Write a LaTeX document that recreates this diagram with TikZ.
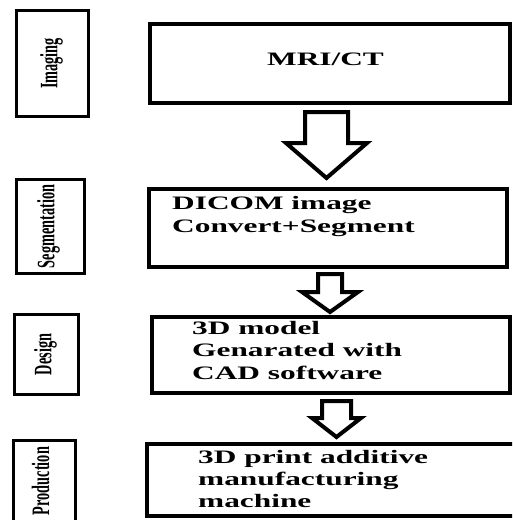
\documentclass[tikz,border=0pt]{standalone}
\usepackage{fontspec}
\setmainfont{Liberation Serif}
\begin{document}
\begin{tikzpicture}[x=1pt,y=-1pt]
\tikzset{
  sidebox/.style={draw, line width=3.5pt, inner sep=0pt},
  mainbox/.style={draw, line width=4.5pt, inner sep=0pt},
  txt/.style={anchor=base west, inner sep=0pt, font=\fontsize{19}{22.5}\selectfont\bfseries},
  lbl/.style={rotate=90, inner sep=0pt, font=\fontsize{14.3}{16}\selectfont\bfseries},
  blk/.style={draw, line width=4pt, fill=white, line join=miter}
}
\clip (0,0) rectangle (512,520);
\fill[white] (0,0) rectangle (512,520);

% block arrows
\draw[blk] (305,112) -- (348,112) -- (348,143) -- (367,143) -- (326.5,178) -- (286,143) -- (305,143) -- cycle;
\draw[blk] (318,274) -- (342,274) -- (342,292) -- (358,292) -- (330,312) -- (302,292) -- (318,292) -- cycle;
\draw[blk] (322,401) -- (351,401) -- (351,418) -- (361,418) -- (336.5,437) -- (312,418) -- (322,418) -- cycle;

% side boxes
\node[sidebox, minimum width=72pt, minimum height=106pt] (imgbox) at (52.5,63.5) {};
\node[sidebox, minimum width=68pt, minimum height=94pt] (segbox) at (50.5,226.5) {};
\node[sidebox, minimum width=64pt, minimum height=80pt] (desbox) at (46.5,354.5) {};
\node[sidebox, minimum width=62pt, minimum height=89pt] (probox) at (44.5,485) {};

\node[lbl] (imglbl) at ([xshift=-1pt]imgbox.center) {\scalebox{1}[1.75]{Imaging}};
\node[lbl] (seglbl) at ([xshift=-2pt]segbox.center) {\scalebox{1}[1.75]{Segmentation}};
\node[lbl] (deslbl) at ([xshift=-1pt]desbox.center) {\scalebox{1}[1.75]{Design}};
\node[lbl] (prolbl) at ([xshift=-4pt,yshift=4pt]probox.center) {\scalebox{1}[1.75]{Production}};

% main boxes
\node[mainbox, minimum width=360pt, minimum height=79pt] (mri) at (330,63.5) {};
\node[mainbox, minimum width=358pt, minimum height=78pt] (dicom) at (328,228) {};
\node[mainbox, minimum width=358pt, minimum height=76pt] (model) at (331,355) {};
\node[mainbox, minimum width=383pt, minimum height=72pt] (print) at (338.5,480) {};

% texts
\node[txt, anchor=base] (t1) at (325.5,65) {\scalebox{1.65}[1]{MRI/CT}};
\node[txt] (t2a) at (172,209) {\scalebox{1.65}[1]{DICOM image}};
\node[txt] (t2b) at (172,232) {\scalebox{1.65}[1]{Convert+Segment}};
\node[txt] (t3a) at (192,334) {\scalebox{1.65}[1]{3D model}};
\node[txt] (t3b) at (192,356.5) {\scalebox{1.65}[1]{Genarated with}};
\node[txt] (t3c) at (192,379) {\scalebox{1.65}[1]{CAD software}};
\node[txt] (t4a) at (198,463) {\scalebox{1.65}[1]{3D print additive}};
\node[txt] (t4b) at (198,485.5) {\scalebox{1.65}[1]{manufacturing}};
\node[txt] (t4c) at (198,507.5) {\scalebox{1.65}[1]{machine}};
\end{tikzpicture}
\end{document}
